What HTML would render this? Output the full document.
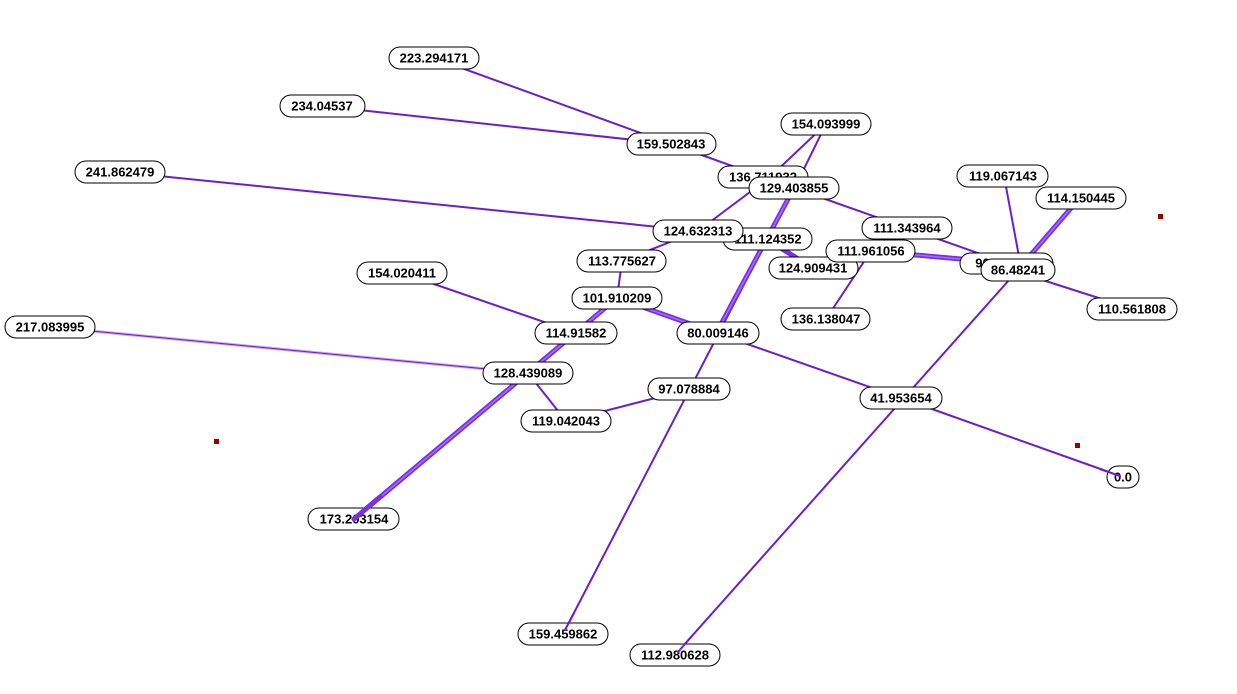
<!DOCTYPE html>
<html><head><meta charset="utf-8"><style>
html,body{margin:0;padding:0;background:#fff;}
svg{display:block;}
text{font-family:"Liberation Sans",sans-serif;font-weight:bold;font-size:13px;fill:#000;text-anchor:middle;dominant-baseline:central;}
.n{fill:#fff;stroke:#000;stroke-width:1;}
.e{stroke:#6a1fc8;stroke-width:2;fill:none;stroke-linecap:round;}
.t{stroke:#7a30e0;stroke-width:5;fill:none;stroke-linecap:round;}
.th{stroke:#a070ff;stroke-width:1.5;fill:none;}
</style></head><body>
<svg width="1237" height="694" viewBox="0 0 1237 694" xmlns="http://www.w3.org/2000/svg">
<line class="e" x1="434" y1="58" x2="671" y2="144"/>
<line class="e" x1="322" y1="106" x2="671" y2="144"/>
<line class="e" x1="671" y1="144" x2="763" y2="177"/>
<line class="e" x1="826" y1="124" x2="770" y2="177"/>
<line class="e" x1="826" y1="124" x2="796" y2="185"/>
<line class="e" x1="770" y1="177" x2="698" y2="231"/>
<line class="e" x1="794" y1="188" x2="907" y2="228"/>
<line class="e" x1="120" y1="172" x2="698" y2="231"/>
<line class="e" x1="698" y1="231" x2="622" y2="261"/>
<line class="t" x1="766" y1="239" x2="813" y2="268"/>
<line class="t" x1="871" y1="251" x2="1006" y2="263"/>
<line class="th" x1="871" y1="251" x2="1006" y2="263"/>
<line class="e" x1="907" y1="228" x2="1006" y2="263"/>
<line class="e" x1="871" y1="251" x2="826" y2="319"/>
<line class="e" x1="622" y1="261" x2="617" y2="298"/>
<line class="t" x1="617" y1="298" x2="716" y2="333"/>
<line class="th" x1="617" y1="298" x2="716" y2="333"/>
<line class="e" x1="402" y1="273" x2="576" y2="333"/>
<line class="e" x1="528" y1="373" x2="566" y2="421"/>
<line class="e" x1="566" y1="421" x2="690" y2="389"/>
<line class="e" x1="716" y1="333" x2="901" y2="398"/>
<line class="e" x1="901" y1="398" x2="1123" y2="477"/>
<line class="e" x1="1018" y1="270" x2="675" y2="655"/>
<line class="e" x1="1004" y1="176" x2="1020" y2="262"/>
<line class="t" x1="1072" y1="207" x2="1022" y2="265"/>
<line class="th" x1="1072" y1="207" x2="1022" y2="265"/>
<line class="e" x1="1030" y1="276" x2="1133" y2="309"/>
<line stroke="#c9a8f0" stroke-width="3" x1="50" y1="327" x2="528" y2="373"/>
<line stroke="#6a1fc8" stroke-width="1" x1="50" y1="327" x2="528" y2="373"/>
<line class="e" x1="794" y1="188" x2="563" y2="634"/>
<line class="t" x1="794" y1="188" x2="720" y2="326"/>
<line class="th" x1="794" y1="188" x2="720" y2="326"/>
<line class="t" x1="617" y1="298" x2="354" y2="519"/>
<line class="th" x1="617" y1="298" x2="354" y2="519"/>
<g>
<rect class="n" x="389" y="47" width="90" height="22" rx="11"/><text x="434" y="58">223.294171</text>
<rect class="n" x="280" y="95" width="85" height="22" rx="11"/><text x="322" y="106">234.04537</text>
<rect class="n" x="627" y="133" width="89" height="22" rx="11"/><text x="671" y="144">159.502843</text>
<rect class="n" x="781" y="113" width="90" height="22" rx="11"/><text x="826" y="124">154.093999</text>
<rect class="n" x="718" y="166" width="90" height="22" rx="11"/><text x="763" y="177">136.711932</text>
<rect class="n" x="749" y="177" width="90" height="22" rx="11"/><text x="794" y="188">129.403855</text>
<rect class="n" x="75" y="161" width="90" height="22" rx="11"/><text x="120" y="172">241.862479</text>
<rect class="n" x="723" y="228" width="89" height="22" rx="11"/><text x="768" y="239">111.124352</text>
<rect class="n" x="653" y="220" width="90" height="22" rx="11"/><text x="698" y="231">124.632313</text>
<rect class="n" x="577" y="250" width="89" height="22" rx="11"/><text x="622" y="261">113.775627</text>
<rect class="n" x="862" y="217" width="90" height="22" rx="11"/><text x="907" y="228">111.343964</text>
<rect class="n" x="769" y="257" width="89" height="22" rx="11"/><text x="813" y="268">124.909431</text>
<rect class="n" x="826" y="240" width="89" height="22" rx="11"/><text x="871" y="251">111.961056</text>
<rect class="n" x="957" y="165" width="91" height="22" rx="11"/><text x="1003" y="176">119.067143</text>
<rect class="n" x="1036" y="187" width="90" height="22" rx="11"/><text x="1081" y="198">114.150445</text>
<rect class="n" x="960" y="253" width="93" height="21" rx="10.5"/><text x="1006" y="263">90.000000</text>
<rect class="n" x="981" y="259" width="74" height="22" rx="11"/><text x="1018" y="270">86.48241</text>
<rect class="n" x="1087" y="298" width="90" height="22" rx="11"/><text x="1132" y="309">110.561808</text>
<rect class="n" x="357" y="262" width="90" height="22" rx="11"/><text x="402" y="273">154.020411</text>
<rect class="n" x="572" y="287" width="90" height="22" rx="11"/><text x="617" y="298">101.910209</text>
<rect class="n" x="5" y="316" width="90" height="22" rx="11"/><text x="50" y="327">217.083995</text>
<rect class="n" x="535" y="322" width="82" height="22" rx="11"/><text x="576" y="333">114.91582</text>
<rect class="n" x="677" y="322" width="82" height="22" rx="11"/><text x="718" y="333">80.009146</text>
<rect class="n" x="781" y="308" width="89" height="22" rx="11"/><text x="826" y="319">136.138047</text>
<rect class="n" x="483" y="362" width="90" height="22" rx="11"/><text x="528" y="373">128.439089</text>
<rect class="n" x="648" y="378" width="82" height="22" rx="11"/><text x="689" y="389">97.078884</text>
<rect class="n" x="521" y="410" width="90" height="22" rx="11"/><text x="566" y="421">119.042043</text>
<rect class="n" x="860" y="387" width="82" height="22" rx="11"/><text x="901" y="398">41.953654</text>
<rect class="n" x="1107" y="466" width="32" height="22" rx="11"/><text x="1123" y="477">0.0</text>
<rect class="n" x="308" y="508" width="91" height="22" rx="11"/><text x="354" y="519">173.203154</text>
<rect class="n" x="518" y="623" width="90" height="22" rx="11"/><text x="563" y="634">159.459862</text>
<rect class="n" x="630" y="644" width="90" height="22" rx="11"/><text x="675" y="655">112.980628</text>
</g>
<line class="t" x1="380" y1="497" x2="354" y2="519"/>
<line class="e" x1="574" y1="613" x2="565" y2="630"/>
<line class="e" x1="692" y1="636" x2="678" y2="652"/>
<line class="e" x1="1100" y1="469" x2="1120" y2="476"/>
<rect x="214" y="439" width="5" height="5" fill="#990000"/>
<rect x="1158" y="214" width="5" height="5" fill="#990000"/>
<rect x="1075" y="443" width="5" height="5" fill="#990000"/>
</svg>
</body></html>
